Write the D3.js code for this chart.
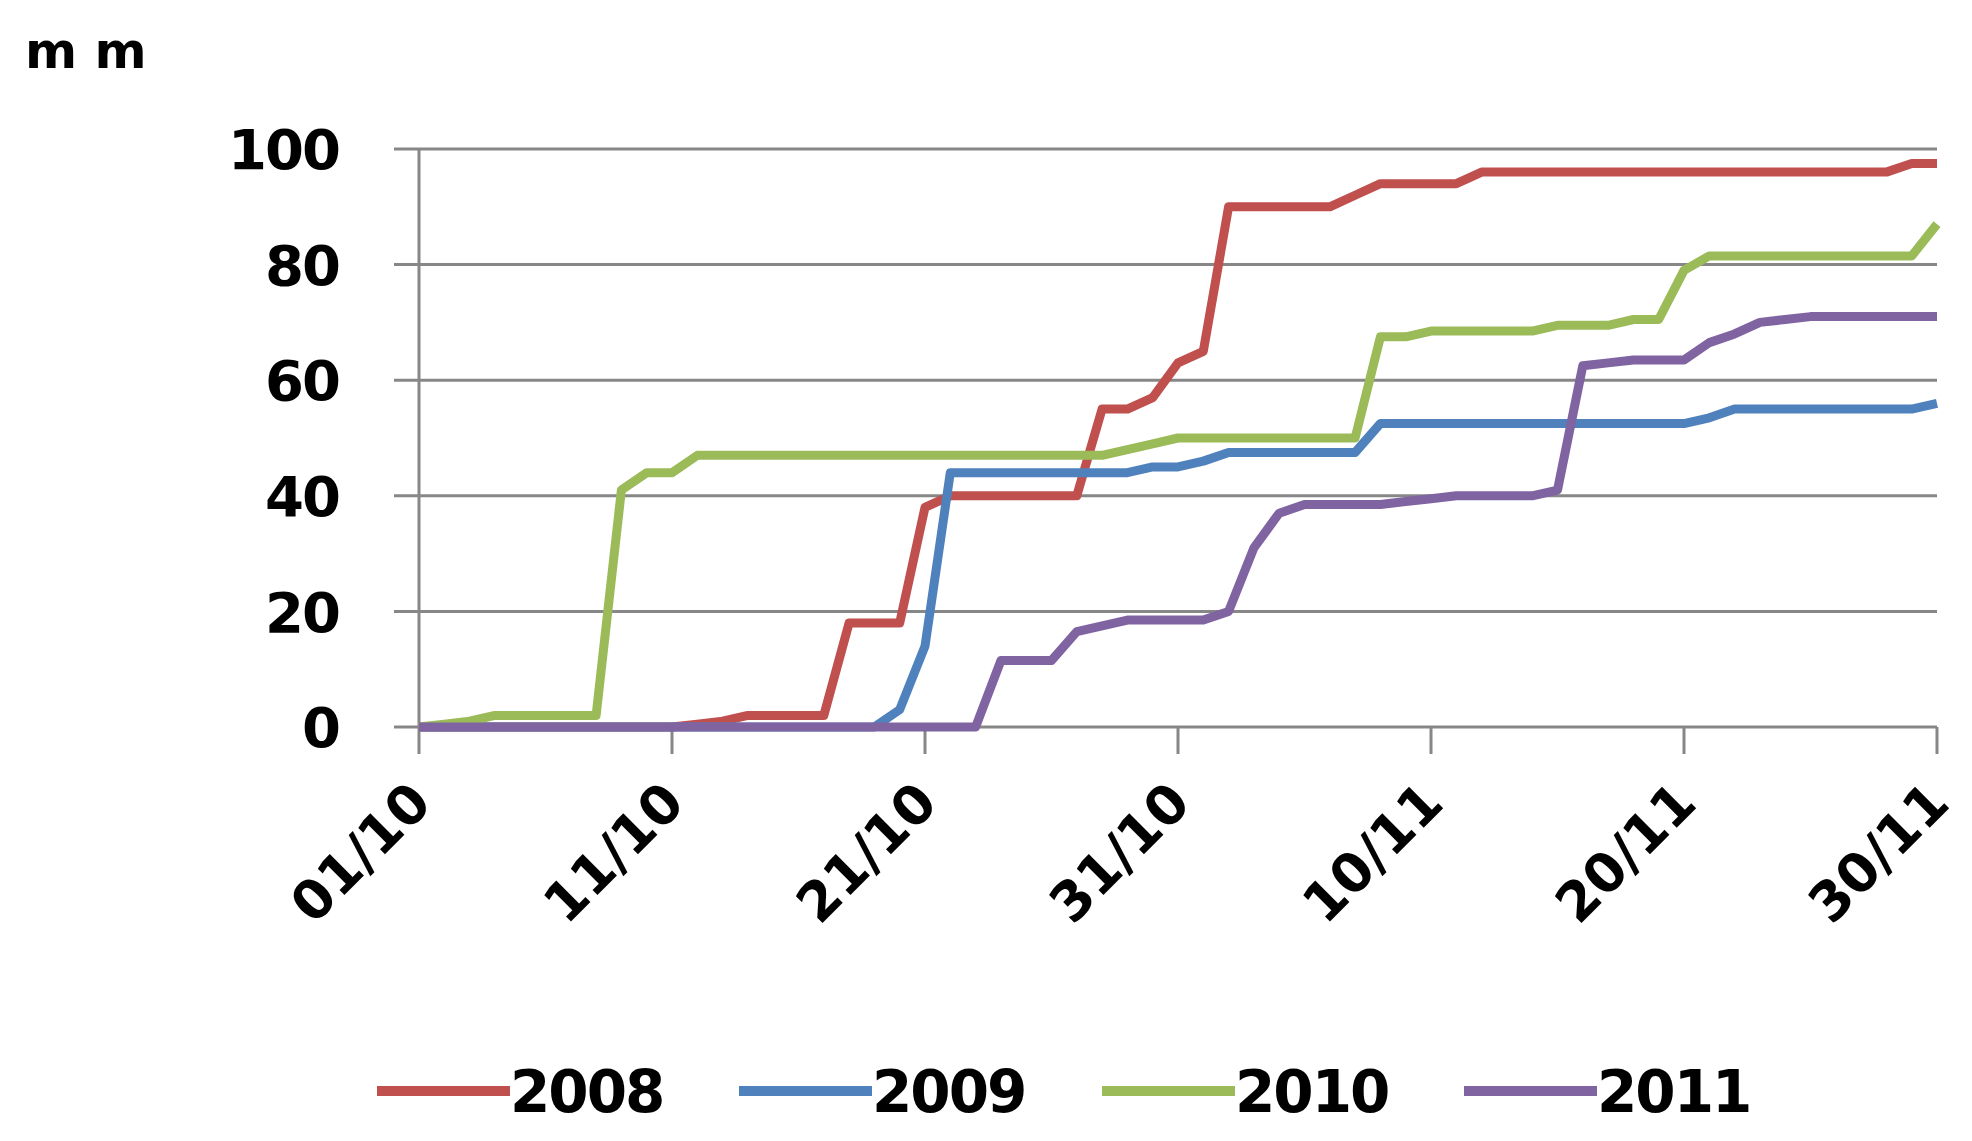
<!DOCTYPE html>
<html><head><meta charset="utf-8">
<script src="https://cdn.jsdelivr.net/npm/d3@7"></script>
<style>body{margin:0;background:#fff}</style></head>
<body><svg id="c" width="1972" height="1141"></svg>
<script>
const years = ["2008","2009","2010","2011"];
const colors = ["#c0504d","#4f81bd","#9bbb59","#8064a2"];
const xTickLabels = ["01/10","11/10","21/10","31/10","10/11","20/11","30/11"];
const yTicks = [0,20,40,60,80,100];
const s2008 = [0,0,0,0,0,0,0,0,0,0,0,0.5,1,2,2,2,2,18,18,18,38,40,40,40,40,40,40,55,55,57,63,65,90,90,90,90,90,92,94,94,94,94,96,96,96,96,96,96,96,96,96,96,96,96,96,96,96,96,96,97.5,97.5];
const s2009 = [0,0,0,0,0,0,0,0,0,0,0,0,0,0,0,0,0,0,0,3,14,44,44,44,44,44,44,44,44,45,45,46,47.5,47.5,47.5,47.5,47.5,47.5,52.5,52.5,52.5,52.5,52.5,52.5,52.5,52.5,52.5,52.5,52.5,52.5,52.5,53.5,55,55,55,55,55,55,55,55,56];
const s2010 = [0,0.5,1,2,2,2,2,2,41,44,44,47,47,47,47,47,47,47,47,47,47,47,47,47,47,47,47,47,48,49,50,50,50,50,50,50,50,50,67.5,67.5,68.5,68.5,68.5,68.5,68.5,69.5,69.5,69.5,70.5,70.5,79,81.5,81.5,81.5,81.5,81.5,81.5,81.5,81.5,81.5,87];
const s2011 = [0,0,0,0,0,0,0,0,0,0,0,0,0,0,0,0,0,0,0,0,0,0,0,11.5,11.5,11.5,16.5,17.5,18.5,18.5,18.5,18.5,20,31,37,38.5,38.5,38.5,38.5,39,39.5,40,40,40,40,41,62.5,63,63.5,63.5,63.5,66.5,68,70,70.5,71,71,71,71,71,71];
const series = [s2008,s2009,s2010,s2011];

const svg = d3.select("#c");
const L=419, R=1937, T=149, B=727;
const x = d3.scaleLinear().domain([0,60]).range([L,R]);
const y = d3.scaleLinear().domain([0,100]).range([B,T]);
const font = "'DejaVu Sans', Verdana, sans-serif";

svg.append("g").selectAll("line").data(yTicks).join("line")
  .attr("x1",L-25).attr("x2",R).attr("y1",d=>y(d)).attr("y2",d=>y(d))
  .attr("stroke","#878787").attr("stroke-width",3);
svg.append("line").attr("x1",L).attr("x2",L).attr("y1",T).attr("y2",B)
  .attr("stroke","#878787").attr("stroke-width",3);
svg.append("g").selectAll("line").data(d3.range(0,61,10)).join("line")
  .attr("x1",d=>x(d)).attr("x2",d=>x(d)).attr("y1",B).attr("y2",B+27)
  .attr("stroke","#878787").attr("stroke-width",3);
svg.append("g").selectAll("text").data(yTicks).join("text")
  .attr("x",L-80).attr("y",d=>y(d)).attr("dy","0.36em").attr("text-anchor","end")
  .attr("font-family",font).attr("font-weight","bold").attr("font-size",56).attr("letter-spacing",-2).text(d=>d);
svg.append("g").selectAll("text").data(xTickLabels).join("text")
  .attr("text-anchor","end").attr("font-family",font).attr("font-weight","bold").attr("font-size",54)
  .attr("transform",(d,i)=>`translate(${x(i*10)-12},${B+52}) rotate(-45)`)
  .attr("dy","0.7em").text(d=>d);
svg.append("text").attr("x",25).attr("y",68).attr("font-family",font).attr("font-weight","bold")
  .attr("font-size",50).text("m m");
const line = d3.line().x((d,i)=>x(i)).y(d=>y(d));
svg.append("g").selectAll("path").data(series).join("path")
  .attr("d",line).attr("fill","none").attr("stroke",(d,i)=>colors[i])
  .attr("stroke-width",9).attr("stroke-linejoin","round");
const lx=[377,739,1102,1464], ly=1091;
const lg = svg.append("g").selectAll("g").data(years).join("g")
  .attr("transform",(d,i)=>`translate(${lx[i]},${ly})`);
lg.append("line").attr("x1",0).attr("x2",133).attr("stroke",(d,i)=>colors[i]).attr("stroke-width",10);
lg.append("text").attr("x",133).attr("dy","0.36em").attr("font-family",font).attr("font-weight","bold")
  .attr("font-size",58).attr("letter-spacing",-2).text(d=>d);
</script></body></html>
